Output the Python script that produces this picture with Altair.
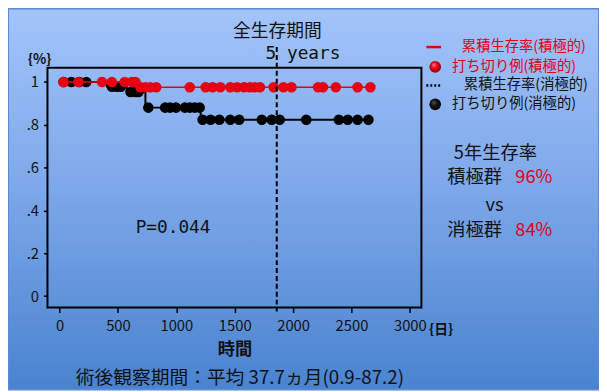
import altair as alt
import pandas as pd

# ---- data ----
# step curves (time in days, cumulative survival)
red_curve_t = [0, 676, 2662]
red_curve_s = [1.0, 0.975, 0.975]
black_curve_t = [0, 406, 575, 735, 1208, 2645]
black_curve_s = [1.0, 0.978, 0.953, 0.880, 0.823, 0.823]

# censored cases
red_cens_t = [34, 161, 363, 448, 558, 620, 650,
              693, 735, 777, 828, 1115, 1251, 1310, 1377, 1462, 1521, 1580,
              1631, 1673, 1716, 1834, 1918, 1986, 2214, 2256, 2366, 2552, 2662]
red_cens_s = [1.0] * 7 + [0.975] * 22
black_cens_t = [34, 101, 169, 228,
                448, 490, 524,
                608, 651, 676,
                760, 904, 946, 997, 1073, 1115, 1158, 1200,
                1225, 1293, 1369, 1462, 1538, 1732, 1817, 1885, 2113, 2392,
                2468, 2552, 2645]
black_cens_s = [1.0] * 4 + [0.978] * 3 + [0.953] * 3 + [0.880] * 8 + [0.823] * 13

five_year_day = 1860
x_ticks = list(range(0, 3001, 250))
y_ticks = [i / 10 for i in range(0, 11)]

FONT = "Noto Sans CJK JP"
MONO = "DejaVu Sans Mono"
RED = "#e60012"
W, H = 379, 243

xs = alt.Scale(domain=[-104, 3099], nice=False, zero=False)
ys = alt.Scale(domain=[-0.0535, 1.066], nice=False, zero=False)

red_curve = pd.DataFrame({"t": red_curve_t, "s": red_curve_s})
black_curve = pd.DataFrame({"t": black_curve_t, "s": black_curve_s})
red_cens = pd.DataFrame({"t": red_cens_t, "s": red_cens_s})
black_cens = pd.DataFrame({"t": black_cens_t, "s": black_cens_s})

one = pd.DataFrame({"a": [0]})

bg = alt.Chart(one).mark_rect(
    fill=alt.LinearGradient(gradient="linear", x1=0, y1=0, x2=0, y2=1,
                            stops=[alt.GradientStop(offset=0, color="#a2c4fa"),
                                   alt.GradientStop(offset=0.45, color="#7fa9ea"),
                                   alt.GradientStop(offset=1, color="#4983cf")]),
    stroke="#5a8ad2", strokeWidth=2
).encode(x=alt.value(-40), x2=alt.value(W + 180), y=alt.value(-60), y2=alt.value(H + 83))

frame = alt.Chart(one).mark_rect(fillOpacity=0, stroke="black", strokeWidth=2).encode(
    x=alt.value(0), x2=alt.value(W), y=alt.value(0), y2=alt.value(H))

xaxis = alt.Axis(values=x_ticks, labelExpr="datum.value % 500 == 0 ? datum.label : ''",
                 format="d", title=None, domain=False, grid=False, zindex=1,
                 tickColor="black", tickWidth=1.5, tickSize=5, labelPadding=6,
                 labelFont=FONT, labelFontSize=15, labelColor="#111")
yaxis = alt.Axis(values=y_ticks,
                 labelExpr="round(datum.value*10) % 2 == 0 ? (datum.value > 0.99 ? '1' : (datum.value < 0.01 ? '0' : replace(format(datum.value, '.1f'), '0.', '.'))) : ''",
                 title=None, domain=False, grid=False, zindex=1,
                 tickColor="black", tickWidth=1.5, tickSize=4, labelPadding=5,
                 labelFont=FONT, labelFontSize=15, labelColor="#111")

black_line = alt.Chart(black_curve).mark_line(interpolate="step-after", color="black", strokeWidth=2).encode(
    x=alt.X("t:Q", scale=xs, axis=xaxis), y=alt.Y("s:Q", scale=ys, axis=yaxis))
black_pts = alt.Chart(black_cens).mark_circle(size=115, color="black", opacity=1).encode(
    x=alt.X("t:Q", scale=xs), y=alt.Y("s:Q", scale=ys))
red_line = alt.Chart(red_curve).mark_line(interpolate="step-after", color=RED, strokeWidth=1.5).encode(
    x=alt.X("t:Q", scale=xs), y=alt.Y("s:Q", scale=ys))
red_pts = alt.Chart(red_cens).mark_circle(size=115, color=RED, opacity=1).encode(
    x=alt.X("t:Q", scale=xs), y=alt.Y("s:Q", scale=ys))

vline = alt.Chart(pd.DataFrame({"t": [five_year_day]})).mark_rule(
    color="black", strokeWidth=2, strokeDash=[5, 3]).encode(
    x=alt.X("t:Q", scale=xs), y=alt.value(-21), y2=alt.value(H + 4))


def txt(label, x, y, size=16, color="#111", weight="normal", align="center", font=FONT):
    return alt.Chart(pd.DataFrame({"t": [label]})).mark_text(
        font=font, fontSize=size, color=color, fontWeight=weight, align=align, baseline="middle"
    ).encode(text="t:N", x=alt.value(x), y=alt.value(y))


texts = [
    txt("全生存期間", 233, -36, 18),
    txt("5 years", 259, -14, 18, font=MONO),
    txt("{%}", -8, -8, 14, weight="bold"),
    txt("累積生存率(積極的)", 420, -21, 14.5, color=RED, align="left"),
    txt("打ち切り例(積極的)", 410, -1, 14.5, color=RED, align="left"),
    txt("累積生存率(消極的)", 422, 18, 14.5, align="left"),
    txt("打ち切り例(消極的)", 410, 37, 14.5, align="left"),
    txt("5年生存率", 454, 86, 18.5),
    txt("積極群", 433, 111, 18.5),
    txt("96%", 493, 111, 18.5, color=RED),
    txt("vs", 453, 139, 18.5),
    txt("消極群", 433, 164, 18.5),
    txt("84%", 493, 164, 18.5, color=RED),
    txt("時間", 190, 286, 17.5, weight="bold"),
    txt("{日}", 399, 266, 14, weight="bold"),
    txt("術後観察期間：平均 37.7ヵ月(0.9-87.2)", 195, 314, 19),
]

ptxt = alt.Chart(pd.DataFrame({"t": ["P=0.044"], "x": [972], "y": [0.317]})).mark_text(
    font=MONO, fontSize=18, color="#111").encode(
    x=alt.X("x:Q", scale=xs), y=alt.Y("y:Q", scale=ys), text="t:N")

leg_red_line = alt.Chart(one).mark_rule(color=RED, strokeWidth=2.5).encode(
    x=alt.value(384), x2=alt.value(399), y=alt.value(-21))
leg_black_line = alt.Chart(one).mark_rule(color="black", strokeWidth=2.5, strokeDash=[2, 2]).encode(
    x=alt.value(384), x2=alt.value(400), y=alt.value(18))
leg_red_ball = alt.Chart(one).mark_circle(size=140, opacity=1, fill=alt.RadialGradient(
    gradient="radial", x1=0.35, y1=0.3, r1=0, x2=0.5, y2=0.5, r2=0.55,
    stops=[alt.GradientStop(offset=0, color="#ff8080"), alt.GradientStop(offset=0.5, color="#e60012"),
           alt.GradientStop(offset=1, color="#900000")])).encode(x=alt.value(393), y=alt.value(-1))
leg_black_ball = alt.Chart(one).mark_circle(size=140, opacity=1, fill=alt.RadialGradient(
    gradient="radial", x1=0.35, y1=0.3, r1=0, x2=0.5, y2=0.5, r2=0.55,
    stops=[alt.GradientStop(offset=0, color="#555555"), alt.GradientStop(offset=0.5, color="#111111"),
           alt.GradientStop(offset=1, color="#000000")])).encode(x=alt.value(393), y=alt.value(37))

chart = alt.layer(
    bg, black_line, black_pts, red_line, red_pts, vline, frame, ptxt,
    leg_red_line, leg_black_line, leg_red_ball, leg_black_ball, *texts
).properties(
    width=W, height=H,
    padding={"left": 40, "top": 58, "right": 180, "bottom": 83},
    autosize=alt.AutoSizeParams(type="none"),
).configure_view(stroke=None).configure(background="white")

chart.save("out.html", embed_options={"renderer": "svg", "actions": False})
